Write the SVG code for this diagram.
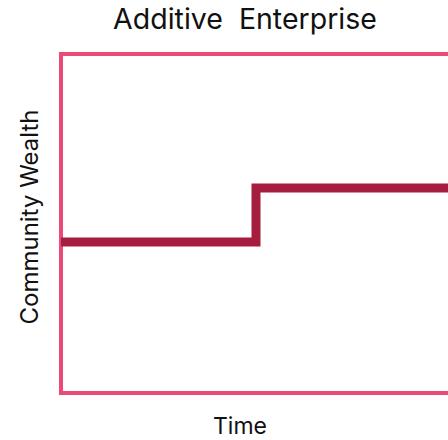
<svg xmlns="http://www.w3.org/2000/svg" width="448" height="440" viewBox="0 0 448 440">
  <style>
    .label { font-family: Inter, "Liberation Sans", sans-serif; fill: #111; text-anchor: middle; }
    .frame { fill: none; stroke: #EC4A76; stroke-width: 4; }
    .series { fill: none; stroke: #A61E3F; stroke-width: 9; stroke-linejoin: miter; }
  </style>
  <rect width="448" height="440" fill="#fff"/>
  <g id="title">
    <text class="label" x="245" y="29" font-size="28.5" xml:space="preserve">Additive  Enterprise</text>
  </g>
  <g id="plot-frame">
    <rect class="frame" x="61" y="54" width="389" height="339"/>
  </g>
  <g id="connectors">
    <path class="series" d="M61,242 H256 V188 H450"/>
  </g>
  <g id="x-axis-label">
    <text class="label" x="240" y="434" font-size="23">Time</text>
  </g>
  <g id="y-axis-label">
    <text class="label" x="0" y="0" font-size="24" transform="translate(38,217) rotate(-90)">Community Wealth</text>
  </g>
</svg>
